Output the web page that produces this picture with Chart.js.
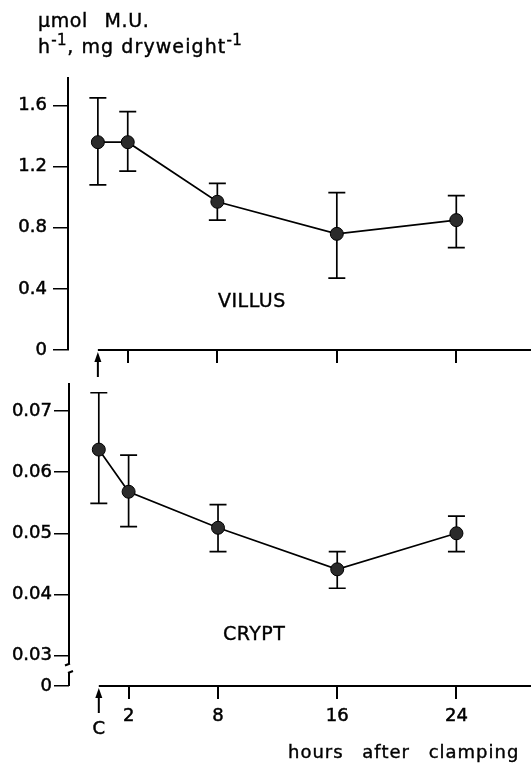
<!DOCTYPE html>
<html>
<head>
<meta charset="utf-8">
<script src="https://cdn.jsdelivr.net/npm/chart.js@4.4.1/dist/chart.umd.min.js"></script>
<style>
  body { margin: 0; background: #fff; width: 531px; height: 765px; position: relative; overflow: hidden;
         font-family: "DejaVu Sans", sans-serif; color: #000; }
  canvas { position: absolute; left: 0; }
  #villusChart { top: 0; }
  #cryptChart { top: 370px; }
  .lbl { position: absolute; white-space: nowrap; line-height: 1; -webkit-text-stroke: 0.4px #000; }
  .sup { font-size: 15px; position: relative; top: -8px; letter-spacing: 0.5px; }
</style>
</head>
<body>
<canvas id="villusChart" width="531" height="395"></canvas>
<canvas id="cryptChart" width="531" height="395"></canvas>

<div class="lbl" style="left:38px; top:11px; font-size:19px; letter-spacing:0.6px; word-spacing:10px;">μmol M.U.</div>
<div class="lbl" style="left:38px; top:37px; font-size:19px; letter-spacing:1.1px;">h<span class="sup">-1</span>, mg dryweight<span class="sup">-1</span></div>
<div class="lbl" style="left:218px; top:291px; font-size:19px; letter-spacing:0.5px;">VILLUS</div>
<div class="lbl" style="left:223px; top:624px; font-size:19px; letter-spacing:0.5px;">CRYPT</div>
<div class="lbl" style="left:288px; top:743px; font-size:18px; letter-spacing:1px; word-spacing:12px;">hours after clamping</div>

<script>
Chart.defaults.font.family = "'DejaVu Sans', sans-serif";
Chart.defaults.font.size = 18;
Chart.defaults.color = "#000";

const hours = [0, 2, 8, 16, 24];
const hourTicks = [2, 8, 16, 24];

const villusMean = [1.36, 1.36, 0.97, 0.76, 0.85];
const villusUpper = [1.65, 1.56, 1.09, 1.03, 1.01];
const villusLower = [1.08, 1.17, 0.85, 0.47, 0.67];
const villusTicks = [0, 0.4, 0.8, 1.2, 1.6];
const villusTickLabels = ["0", "0.4", "0.8", "1.2", "1.6"];

const cryptMean = [0.0637, 0.0568, 0.0509, 0.0441, 0.05];
const cryptUpper = [0.073, 0.0628, 0.0547, 0.047, 0.0528];
const cryptLower = [0.0549, 0.0511, 0.047, 0.041, 0.047];
// broken axis: the lowest tick stands for 0
const cryptTicks = [0.025, 0.03, 0.04, 0.05, 0.06, 0.07];
const cryptTickLabels = ["0", "0.03", "0.04", "0.05", "0.06", "0.07"];

function errorBars(upper, lower) {
  return {
    id: "errorBars",
    beforeDatasetsDraw(chart) {
      const { ctx } = chart;
      const xs = chart.scales.x;
      const ys = chart.scales.y;
      ctx.save();
      ctx.strokeStyle = "#000";
      ctx.lineWidth = 1.7;
      upper.forEach((u, i) => {
        const px = xs.getPixelForValue(hours[i]);
        const top = ys.getPixelForValue(u);
        const bot = ys.getPixelForValue(lower[i]);
        ctx.beginPath();
        ctx.moveTo(px, top);
        ctx.lineTo(px, bot);
        ctx.moveTo(px - 8.5, top);
        ctx.lineTo(px + 8.5, top);
        ctx.moveTo(px - 8.5, bot);
        ctx.lineTo(px + 8.5, bot);
        ctx.stroke();
      });
      ctx.restore();
    },
  };
}

function axisFrame(withC, broken) {
  return {
    id: "axisFrame",
    afterDraw(chart) {
      const { ctx, chartArea } = chart;
      const x0 = chart.scales.x.getPixelForValue(0);
      const base = chartArea.bottom;
      ctx.save();
      ctx.strokeStyle = "#000";
      ctx.fillStyle = "#000";
      ctx.lineWidth = 2;

      // time axis starts at clamping
      ctx.beginPath();
      ctx.moveTo(x0, base);
      ctx.lineTo(chart.width, base);
      ctx.stroke();

      // clamping arrow
      ctx.beginPath();
      ctx.moveTo(x0, base + 10);
      ctx.lineTo(x0, base + 27);
      ctx.stroke();
      ctx.beginPath();
      ctx.moveTo(x0, base + 2);
      ctx.lineTo(x0 - 3.5, base + 12);
      ctx.lineTo(x0 + 3.5, base + 12);
      ctx.closePath();
      ctx.fill();

      if (withC) {
        ctx.font = "18px 'DejaVu Sans'";
        ctx.textAlign = "center";
        ctx.textBaseline = "middle";
        ctx.lineWidth = 0.5;
        ctx.strokeText("C", x0, base + 43);
        ctx.fillText("C", x0, base + 43);
      }

      if (broken) {
        const ys = chart.scales.y;
        const ax = chartArea.left;
        const gapTop = ys.getPixelForValue(0.03) + 9;
        const gapBottom = base - 14;
        ctx.lineWidth = 2;
        ctx.beginPath();
        ctx.moveTo(ax, chartArea.top);
        ctx.lineTo(ax, gapTop);
        ctx.moveTo(ax - 4, gapTop + 1);
        ctx.lineTo(ax + 1, gapTop - 1);
        ctx.moveTo(ax, gapBottom);
        ctx.lineTo(ax, base);
        ctx.moveTo(ax - 1, gapBottom + 1);
        ctx.lineTo(ax + 4, gapBottom - 1);
        ctx.stroke();
      }
      ctx.restore();
    },
  };
}

function panel(canvas, p) {
  return new Chart(canvas, {
    type: "line",
    data: {
      datasets: [
        {
          data: hours.map((h, i) => ({ x: h, y: p.mean[i] })),
          borderColor: "#000",
          borderWidth: 1.7,
          pointRadius: 6.5,
          pointBackgroundColor: "#2b2b2b",
          pointBorderColor: "#000",
          pointBorderWidth: 1,
          tension: 0,
        },
      ],
    },
    options: {
      responsive: false,
      animation: false,
      layout: { padding: { top: p.top, left: 0, right: 0, bottom: 0 } },
      plugins: { legend: { display: false }, tooltip: { enabled: false } },
      scales: {
        x: {
          type: "linear",
          min: -2,
          max: 28.5,
          afterBuildTicks: (s) => { s.ticks = hourTicks.map((v) => ({ value: v })); },
          afterFit: (s) => { s.height = p.xHeight; },
          border: { display: false },
          grid: { drawOnChartArea: false, drawTicks: true, tickLength: 13, color: "#000", lineWidth: 2 },
          ticks: {
            display: p.showHours,
            padding: 7,
            textStrokeColor: "#000",
            textStrokeWidth: 0.5,
            callback: (v) => String(v),
          },
        },
        y: {
          type: "linear",
          min: p.min,
          max: p.max,
          afterBuildTicks: (s) => { s.ticks = p.ticks.map((v) => ({ value: v })); },
          afterFit: (s) => { s.width = p.yWidth; },
          border: { display: !p.broken, color: "#000", width: 2 },
          grid: { drawOnChartArea: false, drawTicks: true, tickLength: 15, color: "#000", lineWidth: 1.5 },
          ticks: {
            padding: p.labelPad,
            textStrokeColor: "#000",
            textStrokeWidth: 0.5,
            callback: (v, i) => p.tickLabels[i],
          },
        },
      },
    },
    plugins: [errorBars(p.upper, p.lower), axisFrame(p.showHours, p.broken)],
  });
}

panel(document.getElementById("villusChart"), {
  mean: villusMean, upper: villusUpper, lower: villusLower,
  ticks: villusTicks, tickLabels: villusTickLabels,
  min: 0, max: 1.78, top: 78, xHeight: 45, yWidth: 68, labelPad: 6,
  showHours: false, broken: false,
});

panel(document.getElementById("cryptChart"), {
  mean: cryptMean, upper: cryptUpper, lower: cryptLower,
  ticks: cryptTicks, tickLabels: cryptTickLabels,
  min: 0.025, max: 0.0746, top: 13, xHeight: 79, yWidth: 69, labelPad: 2,
  showHours: true, broken: true,
});
</script>
</body>
</html>
